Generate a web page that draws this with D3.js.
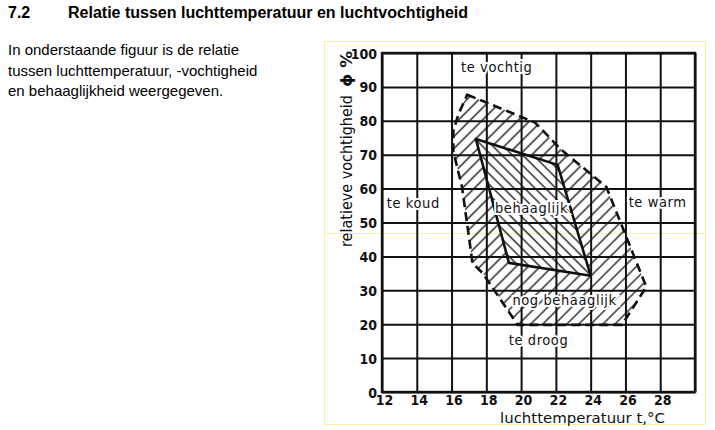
<!DOCTYPE html>
<html>
<head>
<meta charset="utf-8">
<script src="https://cdn.jsdelivr.net/npm/d3@7"></script>
<style>
  body { margin: 0; background: #fff; }
  .page-text { font-family: "Liberation Sans", Arial, sans-serif; fill: #000; }
  .scan { font-family: "DejaVu Sans", sans-serif; font-stretch: condensed; fill: #111; }
</style>
</head>
<body>
<div id="chart"></div>
<script>
// Axis ticks
var tempTicks = [12, 14, 16, 18, 20, 22, 24, 26, 28, 30];
var rhTicks = [0, 10, 20, 30, 40, 50, 60, 70, 80, 90, 100];

// outer zone "nog behaaglijk" (temperature, relative humidity)
var outerTemp = [16.9, 20.8, 22.3, 24.9, 27.2, 25.8, 19.8, 17.8, 17.2, 17.1, 16.6, 16.1, 16.1, 16.4];
var outerRh   = [87.7, 79.5, 71.5, 60.5, 31.0, 19.8, 19.8, 35.0, 38.0, 42.0, 60.5, 71.0, 77.0, 82.0];

// inner zone "behaaglijk"
var innerTemp = [17.4, 22.1, 24.0, 19.3];
var innerRh   = [74.6, 67.0, 34.3, 38.1];

// zone labels, anchored in data units
var zoneNames = ["te vochtig", "te koud", "behaaglijk", "te warm", "nog behaaglijk", "te droog"];
var zoneTemp  = [18.6, 13.8, 20.6, 27.85, 22.5, 21.0];
var zoneRh    = [94.4, 54.4, 52.8, 54.7, 25.7, 13.9];

var svgWidth = 715;
var svgHeight = 430;

var svg = d3.select("#chart")
  .append("svg")
  .attr("width", svgWidth)
  .attr("height", svgHeight);

// heading and intro text
svg.append("text").attr("class", "page-text")
  .attr("x", 8).attr("y", 18)
  .attr("font-size", 16).attr("font-weight", "bold")
  .text("7.2");
svg.append("text").attr("class", "page-text")
  .attr("x", 68).attr("y", 18)
  .attr("font-size", 16).attr("font-weight", "bold")
  .text("Relatie tussen luchttemperatuur en luchtvochtigheid");

var intro = ["In onderstaande figuur is de relatie",
  "tussen luchttemperatuur, -vochtigheid",
  "en behaaglijkheid weergegeven."];
svg.selectAll(".intro")
  .data(intro)
  .enter()
  .append("text")
  .attr("class", "page-text intro")
  .attr("x", 8)
  .attr("y", (d, i) => 55 + i * 20.5)
  .attr("font-size", 15)
  .text(d => d);

// faint frame of the pasted figure
svg.append("rect")
  .attr("x", 324.5).attr("y", 41.5)
  .attr("width", 381).attr("height", 383)
  .attr("fill", "none")
  .attr("stroke", "#f6f2a0")
  .attr("stroke-width", 1);
svg.append("line")
  .attr("x1", 324.5).attr("x2", 705.5)
  .attr("y1", 233.5).attr("y2", 233.5)
  .attr("stroke", "#f6f2a0");

// scales
var x = d3.scaleLinear().domain([12, 30]).range([382, 695]);
var y = d3.scaleLinear().domain([0, 100]).range([392, 53]);

// hatch patterns
var defs = svg.append("defs");
function hatch(id, angle, gap) {
  var p = defs.append("pattern")
    .attr("id", id)
    .attr("patternUnits", "userSpaceOnUse")
    .attr("width", gap).attr("height", gap)
    .attr("patternTransform", `rotate(${angle})`);
  p.append("line")
    .attr("x1", 1).attr("x2", 1)
    .attr("y1", 0).attr("y2", gap)
    .attr("stroke", "#111")
    .attr("stroke-width", 1.3);
}
hatch("slash", 45, 8.5);
hatch("backslash", -45, 7.4);

// grid from axes
var bottomAxis = d3.axisBottom(x)
  .tickValues(tempTicks)
  .tickSize(-(y(0) - y(100)))
  .tickPadding(5)
  .tickFormat(d => d === 30 ? "" : d);
var leftAxis = d3.axisLeft(y)
  .tickValues(rhTicks)
  .tickSize(-(x(30) - x(12)))
  .tickPadding(5);

var xAxis = svg.append("g")
  .attr("transform", `translate(0, ${y(0)})`)
  .call(bottomAxis);
var yAxis = svg.append("g")
  .attr("transform", `translate(${x(12)}, 0)`)
  .call(leftAxis);

[xAxis, yAxis].forEach(function(g) {
  g.select(".domain").remove();
  g.selectAll(".tick line")
    .attr("stroke", "#111")
    .attr("stroke-width", 2);
  g.selectAll(".tick text")
    .attr("class", "scan")
    .attr("font-size", 14)
    .attr("font-weight", "bold")
    .attr("fill", "#111");
});
xAxis.selectAll(".tick text").attr("dx", 2).attr("dy", "0.55em");
yAxis.selectAll(".tick text").attr("dy", "0.36em");

// plot border
svg.append("rect")
  .attr("x", x(12)).attr("y", y(100))
  .attr("width", x(30) - x(12))
  .attr("height", y(0) - y(100))
  .attr("fill", "none")
  .attr("stroke", "#111")
  .attr("stroke-width", 2.4);

// zones
var outerPts = outerTemp.map((t, i) => [x(t), y(outerRh[i])]);
var innerPts = innerTemp.map((t, i) => [x(t), y(innerRh[i])]);
var line = d3.line().curve(d3.curveLinearClosed);

svg.append("path")
  .attr("d", line(outerPts) + line(innerPts))
  .attr("fill", "url(#slash)")
  .attr("fill-rule", "evenodd");
svg.append("path")
  .attr("d", line(innerPts))
  .attr("fill", "url(#backslash)");

svg.append("path")
  .attr("d", line(outerPts))
  .attr("fill", "none")
  .attr("stroke", "#111")
  .attr("stroke-width", 2.6)
  .attr("stroke-dasharray", "9 5");
svg.append("path")
  .attr("d", line(innerPts))
  .attr("fill", "none")
  .attr("stroke", "#111")
  .attr("stroke-width", 2.6)
  .attr("stroke-linejoin", "round");

// zone labels
svg.selectAll(".zone")
  .data(zoneNames)
  .enter()
  .append("text")
  .attr("class", "scan zone")
  .attr("x", (d, i) => x(zoneTemp[i]))
  .attr("y", (d, i) => y(zoneRh[i]))
  .attr("text-anchor", "middle")
  .attr("font-size", 14.5)
  .attr("letter-spacing", 0.6)
  .attr("stroke", "#fff")
  .attr("stroke-width", 4)
  .attr("paint-order", "stroke")
  .text(d => d);

// axis titles
svg.append("text")
  .attr("class", "scan")
  .attr("x", 500).attr("y", 423)
  .attr("font-size", 14)
  .attr("textLength", 165)
  .attr("lengthAdjust", "spacingAndGlyphs")
  .text("luchttemperatuur  t,°C");

var yTitle = svg.append("g")
  .attr("transform", "translate(352, 247) rotate(-90)");
yTitle.append("text")
  .attr("class", "scan")
  .attr("x", 0).attr("y", 0)
  .attr("font-size", 16)
  .attr("textLength", 152)
  .attr("lengthAdjust", "spacingAndGlyphs")
  .text("relatieve vochtigheid");
yTitle.append("text")
  .attr("class", "scan")
  .attr("x", 160).attr("y", 0)
  .attr("font-size", 16)
  .attr("font-weight", "bold")
  .attr("textLength", 36)
  .attr("lengthAdjust", "spacingAndGlyphs")
  .text("ϕ  %");
</script>
</body>
</html>
